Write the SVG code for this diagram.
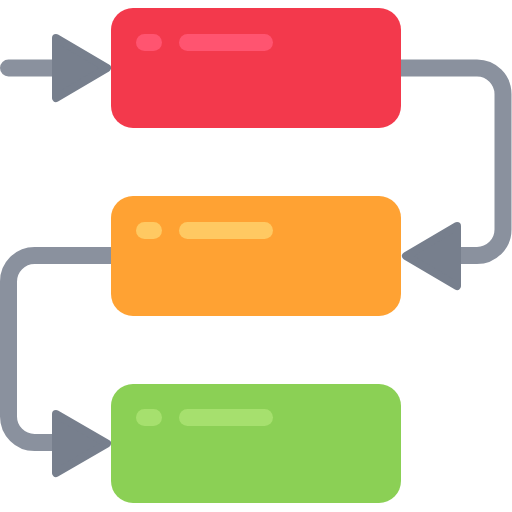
<svg xmlns="http://www.w3.org/2000/svg" width="512" height="512" viewBox="0 0 512 512">
<style>
.line{fill:none;stroke:#8A919E;stroke-width:17;stroke-linecap:round;stroke-linejoin:round}
.head{fill:#777F8D;stroke:#777F8D;stroke-width:8;stroke-linejoin:round}
</style>
<g id="connectors">
<path class="line" d="M8.5 68 H60"/>
<path class="head" d="M56 38 L107 68 L56 98 Z"/>
<path class="line" d="M395 68 H477 A26 26 0 0 1 503 94 V229.5 A26 26 0 0 1 477 255.5 H450"/>
<path class="head" d="M457 226 L406 256 L457 286 Z"/>
<path class="line" d="M117 255.5 H34.5 A26 26 0 0 0 8.5 281.5 V416.5 A26 26 0 0 0 34.5 442.5 H60"/>
<path class="head" d="M56 414 L107 443.5 L56 473 Z"/>
</g>
<g id="node-red">
<rect x="111" y="8" width="290" height="120" rx="22" fill="#F3394C"/>
<rect x="136" y="34" width="26" height="17" rx="8.5" fill="#FF5470"/>
<rect x="179" y="34" width="94" height="17" rx="8.5" fill="#FF5470"/>
</g>
<g id="node-orange">
<rect x="111" y="196" width="290" height="120" rx="22" fill="#FFA233"/>
<rect x="136" y="222" width="26" height="17" rx="8.5" fill="#FFC962"/>
<rect x="179" y="222" width="94" height="17" rx="8.5" fill="#FFC962"/>
</g>
<g id="node-green">
<rect x="111" y="384" width="290" height="119" rx="22" fill="#8BD055"/>
<rect x="136" y="409" width="26" height="17" rx="8.5" fill="#A6E06E"/>
<rect x="179" y="409" width="94" height="17" rx="8.5" fill="#A6E06E"/>
</g>
</svg>
